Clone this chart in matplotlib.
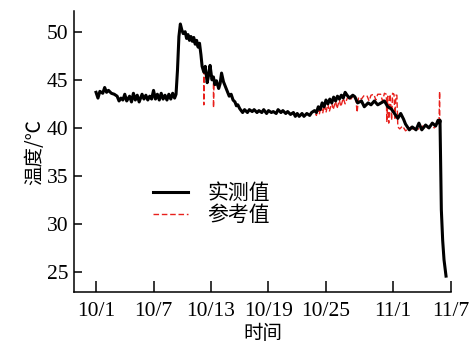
#
# temperature record, measured vs reference
#
import matplotlib
matplotlib.use("Agg")
import matplotlib.pyplot as plt
import numpy as np

# days counted from 10/1 (day 0)
meas_day = [0.0, 0.2, 0.4, 0.7, 0.9, 1.1, 1.3, 1.6, 1.9, 2.2, 2.4, 2.6, 2.8, 3.0, 3.2, 3.5,
            3.7, 3.9, 4.1, 4.3, 4.5, 4.8, 5.0, 5.2, 5.4, 5.6, 5.8, 6.0, 6.2, 6.4, 6.6, 6.8,
            7.0, 7.2, 7.4, 7.6, 7.8, 8.0, 8.2, 8.35, 8.5, 8.65, 8.8, 8.95, 9.1, 9.3, 9.45,
            9.6, 9.75, 9.9, 10.05, 10.2, 10.35, 10.5, 10.65, 10.8, 10.95, 11.07, 11.25, 11.4,
            11.6, 11.75, 11.9, 12.1, 12.25, 12.4, 12.57, 12.8, 12.95, 13.1, 13.3, 13.5, 13.7,
            13.9, 14.1, 14.3, 14.5, 14.65, 14.8, 15.0, 15.3, 15.5, 15.8, 16.0, 16.3, 16.5,
            16.8, 17.0, 17.3, 17.5, 17.8, 18.0, 18.3, 18.5, 18.8, 19.0, 19.3, 19.5, 19.8,
            20.0, 20.3, 20.6, 20.8, 21.0, 21.2, 21.5, 21.7, 22.0, 22.3, 22.5, 22.8, 23.0,
            23.2, 23.4, 23.6, 23.8, 24.0, 24.2, 24.4, 24.6, 24.8, 25.0, 25.2, 25.4, 25.6,
            25.8, 26.0, 26.2, 26.45, 26.8, 27.0, 27.3, 27.7, 28.0, 28.4, 28.7, 29.05, 29.4,
            29.75, 30.1, 30.45, 30.8, 31.15, 31.5, 31.8, 32.1, 32.3, 32.7, 33.0, 33.4, 33.7,
            34.0, 34.4, 34.75, 35.1, 35.45, 35.7, 35.85, 35.9, 35.97, 36.04, 36.18, 36.32,
            36.53]
meas_val = [43.7, 43.1, 43.8, 43.6, 44.2, 43.7, 43.9, 43.6, 43.5, 43.3, 42.8, 43.1, 42.9, 43.5,
            42.8, 43.3, 42.7, 43.6, 42.9, 43.4, 42.7, 43.5, 43.0, 43.4, 42.9, 43.3, 43.0, 43.9,
            43.0, 43.5, 42.9, 43.6, 43.0, 43.4, 42.9, 43.5, 43.0, 43.6, 43.1, 43.5, 46.0, 49.5,
            50.8, 50.2, 49.8, 50.0, 49.3, 49.7, 49.1, 49.5, 49.0, 49.4, 48.7, 49.1, 48.4, 48.8,
            47.6, 46.4, 45.8, 46.4, 44.7, 45.5, 46.5, 45.0, 45.3, 44.5, 44.9, 44.1, 44.6, 45.7,
            44.8, 44.3, 43.8, 43.3, 43.5, 42.9, 42.7, 42.3, 42.4, 42.0, 41.6, 41.9, 41.6, 41.9,
            41.7, 41.9, 41.6, 41.8, 41.6, 41.9, 41.5, 41.8, 41.6, 41.7, 41.5, 41.9, 41.6, 41.8,
            41.5, 41.7, 41.4, 41.6, 41.2, 41.5, 41.2, 41.5, 41.2, 41.5, 41.3, 41.6, 41.8, 41.6,
            42.2, 41.9, 42.6, 42.2, 42.9, 42.5, 43.0, 42.6, 43.2, 42.8, 43.3, 43.0, 43.4, 43.1,
            43.7, 43.4, 43.1, 43.4, 43.25, 42.6, 42.8, 42.2, 42.6, 42.4, 42.8, 42.4, 42.6, 42.8,
            42.2, 42.0, 41.5, 41.0, 41.5, 40.9, 40.4, 39.8, 40.1, 39.8, 40.5, 39.8, 40.3, 40.0,
            40.5, 40.2, 40.8, 40.5, 40.8, 36.0, 31.5, 28.3, 26.3, 24.6]

# reference value where it leaves the measured curve
ref_spike_day = [11.2, 11.25, 11.3, 12.2, 12.26, 12.32]
ref_spike_val = [45.9, 42.4, 46.0, 45.2, 42.1, 45.2]
ref_day = [22.8, 23.0, 23.15, 23.3, 23.5, 23.65, 23.85, 24.0, 24.2, 24.35, 24.6, 24.75, 25.0,
           25.15, 25.4, 25.55, 25.8, 26.0, 26.3, 26.6, 26.9, 27.1, 27.25, 27.4, 27.7, 28.0,
           28.3, 28.5, 28.7, 29.0, 29.2, 29.4, 29.7, 29.9, 30.1, 30.3, 30.35, 30.45, 30.55,
           30.7, 30.85, 30.95, 31.1, 31.2, 31.3, 31.4, 31.5, 31.7, 32.0, 32.3, 32.6, 32.9,
           33.2, 33.5, 33.8, 34.1, 34.4, 34.7, 35.0, 35.3, 35.6, 35.8, 35.86, 35.88, 35.9]
ref_val = [41.8, 41.3, 42.1, 41.4, 42.3, 41.5, 42.4, 41.6, 42.5, 41.7, 42.6, 41.9, 42.8,
           42.0, 42.9, 42.2, 43.1, 42.5, 43.3, 43.0, 43.4, 43.2, 41.6, 43.2, 43.0, 43.4,
           43.3, 42.8, 43.4, 43.5, 42.9, 43.5, 43.5, 42.8, 43.6, 43.5, 40.6, 43.3, 40.5,
           43.5, 40.8, 43.6, 43.5, 41.0, 43.4, 43.4, 40.1, 39.9, 40.2, 39.7, 39.9, 40.1,
           39.7, 40.0, 39.8, 40.2, 39.9, 40.1, 40.3, 40.0, 40.4, 40.6, 43.8, 40.5, 40.6]

tick_days = [0, 6, 12, 18, 24, 31, 37]
tick_labels = ["10/1", "10/7", "10/13", "10/19", "10/25", "11/1", "11/7"]

cjk = ["Noto Sans CJK SC", "DejaVu Sans"]
plt.rcParams["font.family"] = ["Liberation Serif", "Noto Sans CJK SC"]

# reference follows the measured curve outside the divergent window, plus the spikes
md = np.array(meas_day); mv = np.array(meas_val)
keep = md < ref_day[0]
rd = np.concatenate([md[keep], ref_spike_day, ref_day])
rv = np.concatenate([mv[keep], ref_spike_val, ref_val])
order = np.argsort(rd, kind="stable")
rd, rv = rd[order], rv[order]

fig = plt.figure(figsize=(4.75, 3.44), dpi=100)
ax = fig.add_axes([0.1558, 0.1512, 0.7937, 0.8168])

ax.plot(rd, rv, color="#e8201c", lw=1.0, ls=(0, (4, 2)), zorder=2, label="参考值")
ax.plot(md, mv, color="black", lw=2.2, zorder=3, label="实测值")

ax.set_xlim(-2.3, 37.05)
ax.set_ylim(22.95, 52.15)
ax.set_xticks(tick_days)
ax.set_xticklabels(tick_labels)
ax.set_yticks([25, 30, 35, 40, 45, 50])

for s in ["top", "right"]:
    ax.spines[s].set_visible(False)
for s in ["left", "bottom"]:
    ax.spines[s].set_linewidth(1.1)
ax.tick_params(axis="x", direction="in", length=8, width=1.1, labelsize=15.5, pad=7)
ax.tick_params(axis="y", direction="in", length=6, width=1.1, labelsize=15.5, pad=4)

ax.set_xlabel("时间", family=cjk, fontsize=14, labelpad=1.5)
ax.set_ylabel("温度/℃", family=cjk, fontsize=14, labelpad=1)

h, l = ax.get_legend_handles_labels()
ax.legend(h[::-1], l[::-1], loc="upper left", bbox_to_anchor=(0.2095, 0.39), frameon=False,
          prop={"family": cjk, "size": 15}, handlelength=1.7, handletextpad=0.9,
          labelspacing=0.0, borderpad=0, borderaxespad=0)

fig.savefig("out.png", dpi=100)
